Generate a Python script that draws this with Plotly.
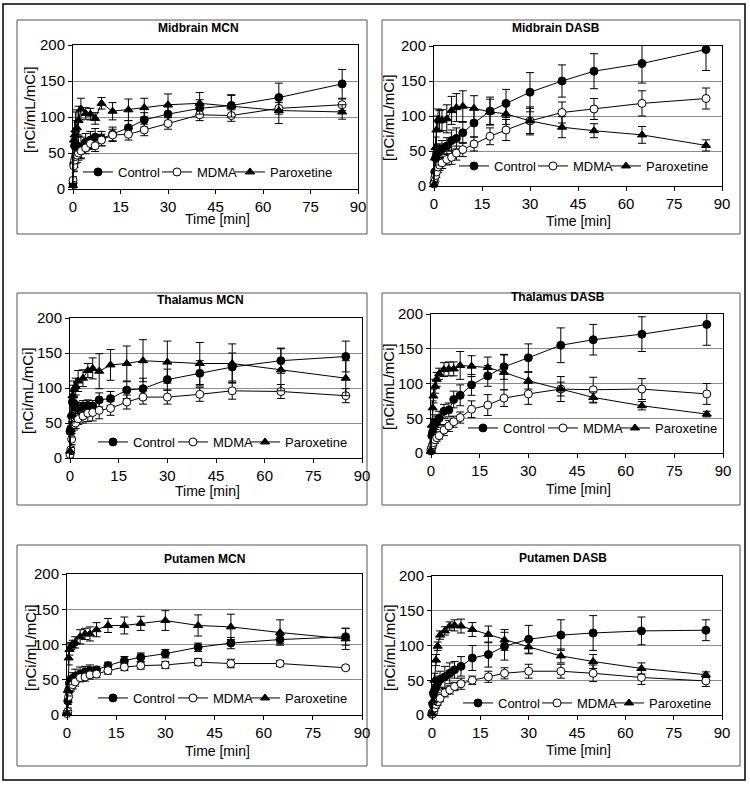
import plotly.graph_objects as go

W, H = 750, 786
FONT = "Liberation Sans, Arial, sans-serif"

# ---------------- data ----------------
time_min = [0, 0.25, 0.5, 0.75, 1.25, 1.75, 2.5, 4, 5.5, 7, 9, 12.5, 17.5, 22.5, 30, 40, 50, 65, 85]
series_names = ["Control", "MDMA", "Paroxetine"]
x_ticks = [0, 15, 30, 45, 60, 75, 90]
y_ticks = [0, 50, 100, 150, 200]

# Midbrain MCN
mb_mcn_control = [8, 35, 60, 62, 60, 58, 57, 65, 68, 72, 70, 76, 85, 96, 104, 112, 116, 127, 146]
mb_mcn_control_err = [5, 10, 15, 15, 15, 15, 15, 12, 12, 12, 10, 10, 10, 10, 10, 12, 15, 20, 20]
mb_mcn_mdma = [12, 32, 40, 45, 47, 50, 53, 57, 63, 60, 68, 75, 76, 82, 91, 103, 102, 112, 117]
mb_mcn_mdma_err = [5, 8, 10, 10, 10, 10, 10, 8, 8, 8, 8, 8, 8, 8, 8, 8, 8, 8, 8]
mb_mcn_parox = [5, 68, 75, 82, 85, 95, 111, 105, 104, 98, 119, 108, 110, 113, 117, 119, 115, 109, 107]
mb_mcn_parox_err = [5, 15, 20, 25, 25, 20, 15, 8, 8, 8, 8, 12, 15, 13, 15, 15, 15, 18, 10]

# Midbrain DASB
mb_dasb_control = [5, 20, 40, 45, 48, 50, 53, 57, 65, 68, 76, 90, 107, 118, 134, 150, 164, 175, 195]
mb_dasb_control_err = [5, 10, 10, 10, 10, 10, 12, 12, 15, 15, 15, 20, 20, 20, 28, 23, 25, 28, 30]
mb_dasb_mdma = [3, 12, 15, 20, 27, 30, 33, 38, 41, 47, 52, 60, 71, 80, 93, 105, 110, 118, 125]
mb_dasb_mdma_err = [3, 8, 8, 8, 8, 8, 8, 8, 10, 10, 10, 10, 12, 15, 18, 15, 15, 18, 15]
mb_dasb_parox = [2, 40, 55, 80, 95, 93, 94, 96, 108, 112, 114, 111, 106, 103, 93, 84, 79, 73, 58]
mb_dasb_parox_err = [3, 10, 15, 20, 15, 15, 15, 20, 20, 20, 22, 18, 18, 15, 20, 15, 10, 12, 8]

# Thalamus MCN
th_mcn_control = [38, 42, 60, 80, 78, 72, 71, 74, 75, 74, 83, 85, 97, 99, 112, 121, 130, 139, 145]
th_mcn_control_err = [5, 8, 10, 10, 10, 8, 8, 8, 8, 8, 10, 10, 12, 15, 15, 18, 20, 18, 22]
th_mcn_mdma = [5, 12, 27, 51, 48, 50, 56, 60, 64, 65, 68, 71, 80, 87, 87, 91, 96, 95, 89]
th_mcn_mdma_err = [5, 5, 8, 8, 8, 8, 8, 10, 12, 12, 12, 10, 10, 10, 10, 10, 12, 10, 10]
th_mcn_parox = [10, 40, 62, 89, 98, 102, 110, 114, 125, 128, 124, 133, 135, 139, 137, 135, 135, 126, 114]
th_mcn_parox_err = [5, 10, 10, 15, 12, 12, 15, 12, 10, 15, 25, 22, 25, 30, 30, 30, 28, 30, 25]

# Thalamus DASB
th_dasb_control = [3, 25, 30, 38, 42, 45, 50, 60, 62, 77, 83, 98, 111, 124, 137, 155, 163, 171, 185]
th_dasb_control_err = [3, 8, 8, 8, 8, 8, 10, 10, 10, 12, 15, 15, 15, 18, 20, 25, 22, 25, 30]
th_dasb_mdma = [5, 8, 12, 15, 19, 22, 25, 33, 39, 45, 51, 63, 69, 79, 85, 92, 91, 92, 85]
th_dasb_mdma_err = [3, 5, 5, 5, 5, 5, 5, 8, 8, 8, 8, 12, 15, 12, 15, 18, 18, 15, 15]
th_dasb_parox = [3, 40, 65, 82, 96, 106, 114, 120, 121, 121, 126, 125, 123, 116, 104, 92, 80, 68, 56]
th_dasb_parox_err = [3, 8, 10, 10, 10, 10, 8, 10, 10, 10, 20, 15, 15, 25, 12, 10, 8, 6, 4]

# Putamen MCN
pu_mcn_control = [3, 20, 35, 45, 50, 52, 55, 58, 61, 63, 64, 70, 77, 82, 87, 96, 102, 107, 111]
pu_mcn_control_err = [3, 5, 5, 5, 5, 8, 10, 10, 8, 8, 5, 5, 6, 6, 6, 6, 8, 6, 12]
pu_mcn_mdma = [2, 5, 26, 38, 40, 43, 47, 53, 54, 57, 58, 63, 68, 70, 71, 75, 73, 73, 67]
pu_mcn_mdma_err = [3, 5, 8, 6, 6, 6, 6, 6, 6, 6, 5, 5, 5, 5, 5, 5, 6, 4, 3]
pu_mcn_parox = [3, 35, 81, 93, 98, 101, 103, 111, 115, 115, 121, 127, 127, 130, 134, 127, 125, 117, 108]
pu_mcn_parox_err = [3, 8, 10, 8, 5, 5, 8, 10, 8, 10, 10, 10, 12, 10, 14, 15, 18, 18, 15]

# Putamen DASB
pu_dasb_control = [3, 15, 30, 35, 40, 46, 51, 55, 60, 65, 70, 82, 87, 99, 109, 115, 118, 121, 122]
pu_dasb_control_err = [3, 5, 8, 8, 8, 10, 12, 15, 15, 12, 14, 18, 18, 20, 20, 22, 25, 20, 15]
pu_dasb_mdma = [1, 2, 5, 10, 15, 19, 24, 32, 36, 41, 45, 50, 55, 60, 63, 63, 60, 54, 49]
pu_dasb_mdma_err = [2, 3, 4, 4, 5, 5, 5, 6, 6, 6, 8, 6, 8, 8, 10, 10, 12, 10, 8]
pu_dasb_parox = [2, 20, 35, 50, 79, 99, 115, 121, 128, 129, 128, 123, 116, 108, 98, 85, 77, 67, 58]
pu_dasb_parox_err = [2, 5, 8, 10, 8, 6, 6, 6, 6, 8, 10, 10, 12, 15, 10, 10, 10, 8, 4]

panel_titles = ["Midbrain MCN", "Midbrain DASB", "Thalamus MCN",
                "Thalamus DASB", "Putamen MCN", "Putamen DASB"]
panel_data = [
    [(mb_mcn_control, mb_mcn_control_err), (mb_mcn_mdma, mb_mcn_mdma_err), (mb_mcn_parox, mb_mcn_parox_err)],
    [(mb_dasb_control, mb_dasb_control_err), (mb_dasb_mdma, mb_dasb_mdma_err), (mb_dasb_parox, mb_dasb_parox_err)],
    [(th_mcn_control, th_mcn_control_err), (th_mcn_mdma, th_mcn_mdma_err), (th_mcn_parox, th_mcn_parox_err)],
    [(th_dasb_control, th_dasb_control_err), (th_dasb_mdma, th_dasb_mdma_err), (th_dasb_parox, th_dasb_parox_err)],
    [(pu_mcn_control, pu_mcn_control_err), (pu_mcn_mdma, pu_mcn_mdma_err), (pu_mcn_parox, pu_mcn_parox_err)],
    [(pu_dasb_control, pu_dasb_control_err), (pu_dasb_mdma, pu_dasb_mdma_err), (pu_dasb_parox, pu_dasb_parox_err)],
]

# ---------------- layout geometry (pixels) ----------------
plot_px = [(73, 358, 45, 189), (434, 722, 46, 186),
           (70, 362, 318, 458), (431, 723, 314, 453),
           (67, 362, 574, 715), (432, 722, 576, 715)]
title_px = [(199, 28), (556, 28), (200, 300), (558, 297), (204, 559), (563, 558)]
xtitle_px = [(217, 219), (578, 221), (207, 491), (578, 489), (217, 751), (578, 750)]
ytitle_px = [(30, 110), (388, 118), (27, 390), (388, 387), (30, 648), (389, 648)]
# legend sample start x for Control / MDMA / Paroxetine, and centre y
legend_x_px = [(88, 167, 240), (464, 543, 616), (103, 183, 255),
               (473, 553, 625), (103, 183, 255), (468, 547, 619)]
legend_y_px = [172, 166, 442, 428, 698, 703]
box_px = [(17, 367, 20, 234), (382, 740, 20, 234),
          (17, 367, 293, 505), (382, 740, 293, 505),
          (17, 367, 545, 766), (382, 740, 545, 766)]


def fx(px):
    return px / W


def fy(py):
    return 1 - py / H


marker_styles = [
    dict(symbol="circle", size=8, color="black", line=dict(color="black", width=1)),
    dict(symbol="circle", size=8, color="white", line=dict(color="black", width=1)),
    dict(symbol="triangle-up", size=8, color="black", line=dict(color="black", width=1)),
]

fig = go.Figure()
layout = dict(width=W, height=H, autosize=False,
              margin=dict(l=0, r=0, t=0, b=0, pad=0, autoexpand=False),
              paper_bgcolor="white", plot_bgcolor="white",
              font=dict(family=FONT, color="black"), showlegend=True)
annotations = []
shapes = []
legend_count = 0

for i in range(6):
    n = i + 1
    xa = "xaxis" if n == 1 else f"xaxis{n}"
    ya = "yaxis" if n == 1 else f"yaxis{n}"
    xr = "x" if n == 1 else f"x{n}"
    yr = "y" if n == 1 else f"y{n}"
    l, r, t, b = plot_px[i]
    layout[xa] = dict(domain=[fx(l), fx(r)], anchor=yr, range=[0, 90], tickvals=x_ticks,
                      showgrid=False, zeroline=False, showline=True, linecolor="black",
                      linewidth=1, mirror=True, ticks="outside", ticklen=4, tickcolor="black",
                      tickfont=dict(size=15, family=FONT), fixedrange=True, automargin=False)
    layout[ya] = dict(domain=[fy(b), fy(t)], anchor=xr, range=[0, 200], tickvals=y_ticks,
                      showgrid=True, gridcolor="#8c8c8c", gridwidth=1, zeroline=False,
                      showline=True, linecolor="black", linewidth=1, mirror=True,
                      ticks="outside", ticklen=4, tickcolor="black",
                      tickfont=dict(size=15, family=FONT), fixedrange=True, automargin=False)
    for k, (vals, errs) in enumerate(panel_data[i]):
        legend_count += 1
        lg = "legend" if legend_count == 1 else f"legend{legend_count}"
        layout[lg] = dict(orientation="h", x=fx(legend_x_px[i][k] - 10), y=fy(legend_y_px[i]),
                          xanchor="left", yanchor="middle", bgcolor="rgba(0,0,0,0)",
                          borderwidth=0, font=dict(size=13, family=FONT), itemwidth=30)
        fig.add_trace(go.Scatter(
            x=time_min, y=vals, name=series_names[k], mode="lines+markers",
            line=dict(color="black", width=1), marker=marker_styles[k],
            error_y=dict(type="data", array=errs, visible=True, color="black",
                         thickness=1, width=4),
            xaxis=xr, yaxis=yr, legend=lg, cliponaxis=False))
    tx, ty = title_px[i]
    annotations.append(dict(text=f"<b>{panel_titles[i]}</b>", x=fx(tx), y=fy(ty), xref="paper",
                            yref="paper", showarrow=False, font=dict(size=12, family=FONT),
                            xanchor="center", yanchor="middle"))
    ax, ay = xtitle_px[i]
    annotations.append(dict(text="Time [min]", x=fx(ax), y=fy(ay), xref="paper", yref="paper",
                            showarrow=False, font=dict(size=14, family=FONT),
                            xanchor="center", yanchor="middle"))
    yx, yy = ytitle_px[i]
    annotations.append(dict(text="[nCi/mL/mCi]", x=fx(yx), y=fy(yy), xref="paper", yref="paper",
                            showarrow=False, textangle=-90, font=dict(size=15, family=FONT),
                            xanchor="center", yanchor="middle"))
    bx0, bx1, by0, by1 = box_px[i]
    shapes.append(dict(type="rect", xref="paper", yref="paper", x0=fx(bx0), x1=fx(bx1),
                       y0=fy(by1), y1=fy(by0), line=dict(color="#555555", width=1), layer="below"))

shapes.append(dict(type="rect", xref="paper", yref="paper", x0=fx(3), x1=fx(745),
                   y0=fy(780), y1=fy(4), line=dict(color="black", width=1.5), layer="below"))

layout["annotations"] = annotations
layout["shapes"] = shapes
fig.update_layout(**layout)
fig.write_html("out.html", config={"displayModeBar": False},
               post_script="document.body.style.margin='0';document.body.style.padding='0';"
                           "document.body.style.overflow='hidden';")
